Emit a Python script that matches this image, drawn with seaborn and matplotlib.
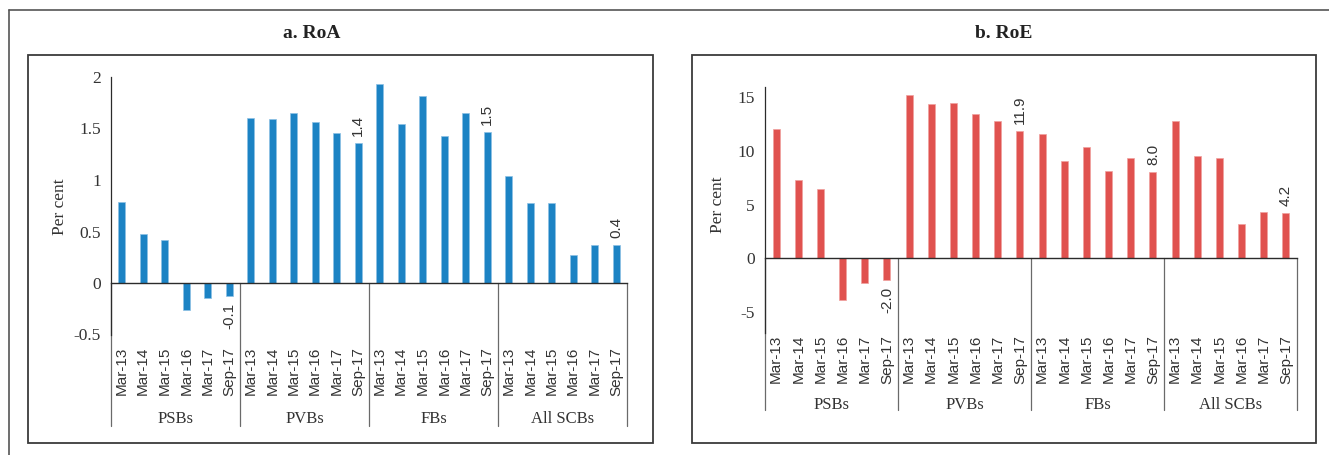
import numpy as np
import pandas as pd
import matplotlib
matplotlib.use('Agg')
import matplotlib.pyplot as plt
import seaborn as sns
from matplotlib.lines import Line2D
from matplotlib.patches import Rectangle

# categories
groups = ['PSBs', 'PVBs', 'FBs', 'All SCBs']
periods = ['Mar-13', 'Mar-14', 'Mar-15', 'Mar-16', 'Mar-17', 'Sep-17']

# a. RoA (per cent)
roa_psb = [0.79, 0.48, 0.42, -0.26, -0.15, -0.13]
roa_pvb = [1.60, 1.59, 1.65, 1.56, 1.46, 1.36]
roa_fb = [1.93, 1.54, 1.82, 1.43, 1.65, 1.47]
roa_scb = [1.04, 0.78, 0.78, 0.27, 0.37, 0.37]

# b. RoE (per cent)
roe_psb = [12.05, 7.27, 6.43, -3.88, -2.30, -1.99]
roe_pvb = [15.19, 14.35, 14.44, 13.45, 12.80, 11.86]
roe_fb = [11.58, 9.04, 10.34, 8.11, 9.32, 8.01]
roe_scb = [12.83, 9.50, 9.32, 3.20, 4.29, 4.22]

# y axis ticks
roa_ticks = [-0.5, 0, 0.5, 1, 1.5, 2]
roa_tick_labels = ['-0.5', '0', '0.5', '1', '1.5', '2']
roe_ticks = [-5, 0, 5, 10, 15]
roe_tick_labels = ['-5', '0', '5', '10', '15']

sns.set_style('white')
plt.rcParams['font.family'] = ['Liberation Serif', 'DejaVu Serif']
plt.rcParams['axes.unicode_minus'] = False

W, H = 1329, 455
SERIF = 'Liberation Serif'
SANS = 'Liberation Sans'
DARK = '#2b2b2b'


def make_df(series):
    rows = []
    for g, vals in zip(groups, series):
        for p, v in zip(periods, vals):
            rows.append({'group': g, 'period': p, 'key': g + ' ' + p, 'value': v})
    return pd.DataFrame(rows)


def draw_panel(fig, df, geo, color, edge, ylim, ticks, tick_labels,
               label_top, group_y, sep_bottom):
    x0, x1, top, bottom = geo
    ax = fig.add_axes([x0 / W, 1 - bottom / H, (x1 - x0) / W, (bottom - top) / H])
    lo, hi = ylim

    def yp(p):
        # pixel row -> data value for this axes
        return hi - (p - top) / (bottom - top) * (hi - lo)

    sns.barplot(data=df, x='key', y='value', color=color, width=0.31,
                saturation=1, edgecolor=edge, linewidth=0.5, ax=ax)
    n = len(df)
    ax.set_xlim(-0.5, n - 0.5)
    ax.set_ylim(lo, hi)
    ax.set_xlabel('')
    ax.set_ylabel('')

    for s in ['top', 'right']:
        ax.spines[s].set_visible(False)
    ax.spines['bottom'].set_position(('data', 0))
    ax.spines['bottom'].set_color(DARK)
    ax.spines['bottom'].set_linewidth(1.0)
    ax.spines['left'].set_color(DARK)
    ax.spines['left'].set_linewidth(0.9)

    ax.set_xticks(np.arange(0.5, n - 1, 1))
    ax.tick_params(axis='x', direction='out', length=3.6, width=0.9,
                   color=DARK, labelbottom=False)
    ax.set_yticks(ticks)
    ax.set_yticklabels(tick_labels, fontsize=12.5, family=SERIF, color='#333333')
    ax.tick_params(axis='y', direction='out', length=3.3, width=0.9,
                   color=DARK, pad=4)

    # category labels
    for i, p in enumerate(df['period']):
        ax.text(i, yp(label_top), p, rotation=90, ha='center', va='top',
                fontsize=11, family=SANS, color='#333333', clip_on=False)
    # group labels and separators
    for k, g in enumerate(groups):
        ax.text(k * 6 + 2.5, yp(group_y), g, ha='center', va='center',
                fontsize=12, family=SERIF, color='#333333', clip_on=False)
    for b in np.arange(-0.5, n, 6):
        ax.add_line(Line2D([b, b], [0, yp(sep_bottom)], color='#6a6a6a',
                           lw=0.9, clip_on=False))

    # value labels on the latest bar of each group
    for i in range(5, n, 6):
        v = df['value'].iloc[i]
        off = 5 if v >= 0 else -5
        ax.annotate(f'{v:.1f}', xy=(i, v), xytext=(0, off),
                    textcoords='offset points', rotation=90, ha='center',
                    va='bottom' if v >= 0 else 'top', fontsize=11,
                    family=SANS, color='#333333')
    return ax


fig = plt.figure(figsize=(W / 100, H / 100), dpi=100)


def fx(x):
    return x / W


def fy(y):
    return 1 - y / H


# outer frame (left and top edges only)
fig.add_artist(Line2D([fx(9), fx(9)], [fy(9.5), fy(455)], color='#555555', lw=1.2))
fig.add_artist(Line2D([fx(9), fx(1329)], [fy(9.5), fy(9.5)], color='#555555', lw=1.2))
# panel boxes
for bx0, bx1 in [(28, 653), (692, 1316)]:
    fig.add_artist(Rectangle((fx(bx0), fy(443)), fx(bx1 - bx0), 388 / H,
                             fill=False, edgecolor='#3a3a3a', lw=1.3))

draw_panel(fig, make_df([roa_psb, roa_pvb, roa_fb, roa_scb]),
           (111, 627, 77, 334.5), '#1c83c4', '#8cc0e4', (-0.5, 2),
           roa_ticks, roa_tick_labels, 347, 419, 426)
draw_panel(fig, make_df([roe_psb, roe_pvb, roe_fb, roe_scb]),
           (765, 1297, 86.6, 333.4), '#e0524f', '#f0a09e', (-7, 16),
           roe_ticks, roe_tick_labels, 335, 405, 410)

fig.text(fx(312), fy(33), 'a. RoA', ha='center', va='center', fontsize=14,
         fontweight='bold', family=SERIF, color='#222222')
fig.text(fx(1004), fy(33), 'b. RoE', ha='center', va='center', fontsize=14,
         fontweight='bold', family=SERIF, color='#222222')
fig.text(fx(60), fy(207), 'Per cent', rotation=90, ha='center', va='center',
         fontsize=12.5, family=SERIF, color='#333333')
fig.text(fx(718), fy(205), 'Per cent', rotation=90, ha='center', va='center',
         fontsize=12.5, family=SERIF, color='#333333')

fig.savefig('out.png', dpi=100, facecolor='white')
